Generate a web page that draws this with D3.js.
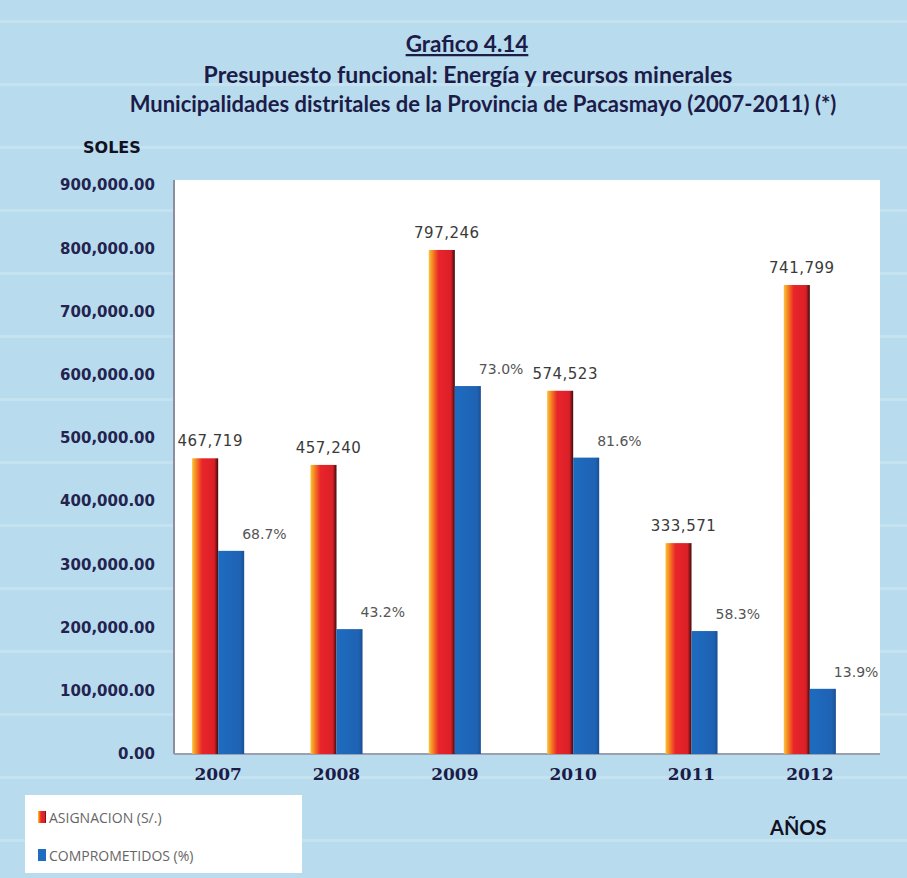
<!DOCTYPE html>
<html>
<head>
<meta charset="utf-8">
<script src="https://cdn.jsdelivr.net/npm/d3@7"></script>
<style>
  body { margin: 0; background: #b9dbee; }
  svg { display: block; }
</style>
</head>
<body>
<div id="chart"></div>
<script>
const width = 907;
const height = 878;

const years = ["2007", "2008", "2009", "2010", "2011", "2012"];
const asignacion = [467719, 457240, 797246, 574523, 333571, 741799];
const comprometidosPct = [68.7, 43.2, 73.0, 81.6, 58.3, 13.9];
const asignacionLabels = ["467,719", "457,240", "797,246", "574,523", "333,571", "741,799"];
const pctLabels = ["68.7%", "43.2%", "73.0%", "81.6%", "58.3%", "13.9%"];
const yTicks = [0, 100000, 200000, 300000, 400000, 500000, 600000, 700000, 800000, 900000];
const legendItems = ["ASIGNACION (S/.)", "COMPROMETIDOS (%)"];

const plot = { left: 175, right: 880, top: 180, bottom: 754 };
const navy = "#1c1c48";

const svg = d3.select("#chart").append("svg")
  .attr("width", width)
  .attr("height", height);

// background with faint stripes
svg.append("rect").attr("width", width).attr("height", height).attr("fill", "#b9dbee");
for (let y = 20; y < height; y += 63) {
  svg.append("rect").attr("x", 0).attr("y", y).attr("width", width).attr("height", 3)
    .attr("fill", "#cde6f3").attr("opacity", 0.6);
}

const defs = svg.append("defs");
const redGrad = defs.append("linearGradient").attr("id", "redGrad");
[[0, "#f9c53a"], [0.18, "#f47920"], [0.38, "#e8252b"], [0.85, "#dc1f27"], [1, "#3b0c0c"]]
  .forEach(([o, c]) => redGrad.append("stop").attr("offset", o).attr("stop-color", c));
const blueGrad = defs.append("linearGradient").attr("id", "blueGrad");
[[0, "#1d6cc0"], [0.85, "#1f62b3"], [1, "#1a4f94"]]
  .forEach(([o, c]) => blueGrad.append("stop").attr("offset", o).attr("stop-color", c));

// plot area
svg.append("rect")
  .attr("x", plot.left).attr("y", plot.top)
  .attr("width", plot.right - plot.left).attr("height", plot.bottom - plot.top)
  .attr("fill", "#ffffff");

const x = d3.scaleBand().domain(years).range([159, 869]).paddingInner(0.56).paddingOuter(0.28);
const x1 = d3.scaleBand().domain(["a", "c"]).range([0, x.bandwidth()]);
const y = d3.scaleLinear().domain([0, 900000]).range([plot.bottom, 185]);

// axes lines
svg.append("line").attr("x1", plot.left - 1).attr("x2", plot.left - 1)
  .attr("y1", plot.top).attr("y2", plot.bottom).attr("stroke", "#8a8ea0").attr("stroke-width", 2);
svg.append("line").attr("x1", plot.left - 1).attr("x2", plot.right)
  .attr("y1", plot.bottom).attr("y2", plot.bottom).attr("stroke", "#9aa0b0").attr("stroke-width", 2);

// y tick labels
svg.append("g")
  .attr("transform", `translate(${plot.left - 20},0)`)
  .call(d3.axisLeft(y).tickValues(yTicks).tickSize(0).tickPadding(0).tickFormat(d3.format(",.2f")))
  .call(g => g.select(".domain").remove())
  .selectAll("text")
  .attr("font-family", "DejaVu Sans")
  .attr("font-weight", "bold")
  .attr("font-size", 15)
  .attr("fill", "#23234f");

// x tick labels
svg.append("g")
  .attr("transform", `translate(0,${plot.bottom + 14})`)
  .call(d3.axisBottom(x).tickSize(0).tickPadding(0))
  .call(g => g.select(".domain").remove())
  .selectAll("text")
  .attr("font-family", "DejaVu Serif")
  .attr("font-weight", "bold")
  .attr("font-size", 17)
  .attr("fill", navy);

const groups = svg.append("g").selectAll("g")
  .data(years)
  .join("g")
  .attr("transform", d => `translate(${x(d)},0)`);

groups.append("rect")
  .attr("x", x1("a"))
  .attr("y", (d, i) => y(asignacion[i]))
  .attr("width", x1.bandwidth())
  .attr("height", (d, i) => y(0) - y(asignacion[i]))
  .attr("fill", "url(#redGrad)");

groups.append("rect")
  .attr("x", x1("c"))
  .attr("y", (d, i) => y(asignacion[i] * comprometidosPct[i] / 100))
  .attr("width", x1.bandwidth())
  .attr("height", (d, i) => y(0) - y(asignacion[i] * comprometidosPct[i] / 100))
  .attr("fill", "url(#blueGrad)");

groups.append("text")
  .attr("x", x1("a") + x1.bandwidth() / 2 + 5)
  .attr("y", (d, i) => y(asignacion[i]) - 12)
  .attr("text-anchor", "middle")
  .attr("font-family", "DejaVu Sans")
  .attr("font-size", 15)
  .attr("letter-spacing", 0.5)
  .attr("fill", "#3a3a3a")
  .text((d, i) => asignacionLabels[i]);

groups.append("text")
  .attr("x", x1("c") + x1.bandwidth() - 2)
  .attr("y", (d, i) => y(asignacion[i] * comprometidosPct[i] / 100) - 12)
  .attr("font-family", "DejaVu Sans")
  .attr("font-size", 14)
  .attr("fill", "#555555")
  .text((d, i) => pctLabels[i]);

// titles
const title = svg.append("g").attr("font-family", "Lato").attr("font-weight", "bold").attr("fill", navy);
title.append("text").attr("x", 467).attr("y", 52).attr("text-anchor", "middle")
  .attr("font-size", 22.5).attr("text-decoration", "underline").text("Grafico 4.14");
title.append("text").attr("x", 468).attr("y", 83).attr("text-anchor", "middle")
  .attr("font-size", 23).text("Presupuesto funcional: Energía y recursos minerales");
title.append("text").attr("x", 483).attr("y", 112).attr("text-anchor", "middle")
  .attr("font-size", 22).text("Municipalidades distritales de la Provincia de Pacasmayo (2007-2011) (*)");

svg.append("text").attr("x", 83).attr("y", 153)
  .attr("font-family", "DejaVu Sans").attr("font-weight", "bold").attr("font-size", 16)
  .attr("fill", "#111122").text("SOLES");
svg.append("text").attr("x", 770).attr("y", 835)
  .attr("font-family", "Lato").attr("font-weight", "bold").attr("font-size", 20)
  .attr("fill", "#111122").text("AÑOS");

// legend
const legend = svg.append("g");
legend.append("rect").attr("x", 25).attr("y", 795).attr("width", 277).attr("height", 78).attr("fill", "#ffffff");
const legendColors = ["url(#redGrad)", "#1f6cc0"];
legendItems.forEach((t, i) => {
  legend.append("rect").attr("x", 38).attr("y", 811 + i * 38).attr("width", 8).attr("height", 12)
    .attr("fill", legendColors[i]);
  legend.append("text").attr("x", 49).attr("y", 823 + i * 38)
    .attr("font-family", "Open Sans").attr("font-size", 14)
    .attr("fill", "#666666").text(t);
});
</script>
</body>
</html>
